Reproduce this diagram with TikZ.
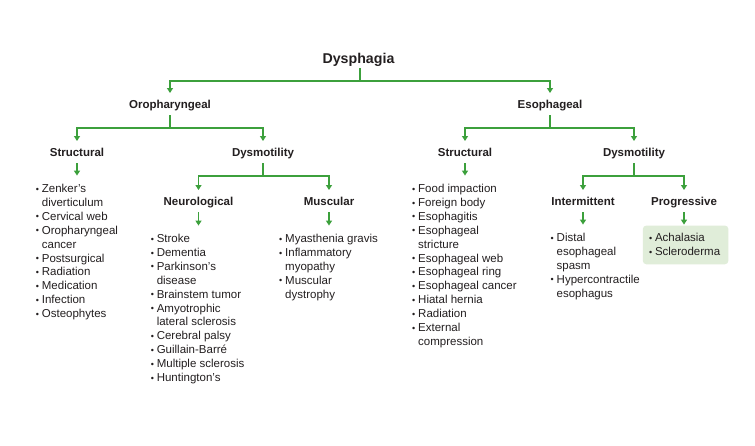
\documentclass[tikz,border=0pt]{standalone}
\usepackage{fontspec}
\setmainfont{Liberation Sans}
\usetikzlibrary{arrows.meta,calc,backgrounds}
\definecolor{lg}{RGB}{60,160,60}
\definecolor{tc}{RGB}{35,31,32}
\definecolor{boxg}{RGB}{224,237,217}
\newcommand\bu{\makebox[6pt][l]{\raisebox{0.4pt}{\fontsize{9}{9}\selectfont •}}}
\newcommand\ct{\hspace*{6pt}}
\newcommand\lst[1]{\begin{tabular}[t]{@{}l@{}}#1\end{tabular}}
\begin{document}
\begin{tikzpicture}[x=1pt,y=-1pt,
  hd/.style={font=\fontsize{11.5}{13}\selectfont\bfseries, text=tc, inner sep=0pt, anchor=base},
  ls/.style={font=\fontsize{11.5}{13.9}\selectfont, text=tc, inner sep=0pt, anchor=base west},
  ln/.style={draw=lg, line width=1.4pt},
  ar/.style={ln, -{Triangle[length=5pt,width=6pt]}}]
\useasboundingbox (0,0) rectangle (755,445);

% headings
\node[hd, font=\fontsize{14.2}{16}\selectfont\bfseries] (dys) at (358.5,63) {Dysphagia};
\node[hd] (oro) at (170,108) {Oropharyngeal};
\node[hd] (eso) at (550,108) {Esophageal};
\node[hd] (lstr) at (77,156) {Structural};
\node[hd] (ldys) at (263,156) {Dysmotility};
\node[hd] (rstr) at (465,156) {Structural};
\node[hd] (rdys) at (634,156) {Dysmotility};
\node[hd] (neu) at (198.5,205) {Neurological};
\node[hd] (mus) at (329,205) {Muscular};
\node[hd] (int) at (583,205) {Intermittent};
\node[hd] (pro) at (684,205) {Progressive};

% lists
\node[ls] (lstrl) at (35.7,192.5) {\lst{\bu Zenker’s\\ \ct diverticulum\\ \bu Cervical web\\ \bu Oropharyngeal\\ \ct cancer\\ \bu Postsurgical\\ \bu Radiation\\ \bu Medication\\ \bu Infection\\ \bu Osteophytes}};
\node[ls] (neul) at (150.6,242.5) {\lst{\bu Stroke\\ \bu Dementia\\ \bu Parkinson’s\\ \ct disease\\ \bu Brainstem tumor\\ \bu Amyotrophic\\ \ct lateral sclerosis\\ \bu Cerebral palsy\\ \bu Guillain-Barré\\ \bu Multiple sclerosis\\ \bu Huntington’s}};
\node[ls] (musl) at (279,242.5) {\lst{\bu Myasthenia gravis\\ \bu Inflammatory\\ \ct myopathy\\ \bu Muscular\\ \ct dystrophy}};
\node[ls] (rstrl) at (412,192.5) {\lst{\bu Food impaction\\ \bu Foreign body\\ \bu Esophagitis\\ \bu Esophageal\\ \ct stricture\\ \bu Esophageal web\\ \bu Esophageal ring\\ \bu Esophageal cancer\\ \bu Hiatal hernia\\ \bu Radiation\\ \bu External\\ \ct compression}};
\node[ls] (intl) at (550.5,241.5) {\lst{\bu Distal\\ \ct esophageal\\ \ct spasm\\ \bu Hypercontractile\\ \ct esophagus}};
\node[ls] (prol) at (648.8,241.5) {\lst{\bu Achalasia\\ \bu Scleroderma}};

\begin{scope}[on background layer]
\fill[white] (0,0) rectangle (755,445);
\fill[boxg, rounded corners=3.5pt] ($(prol.north west)+(-6,-6)$) rectangle ($(prol.south east)+(8,4.5)$);
\end{scope}

% tree connectors
\draw[ar] ([xshift=1.5pt,yshift=-5pt]dys.base) -- ++(0,13) -| ([yshift=15pt]oro.base);
\draw[ar] ([xshift=1.5pt,yshift=-5pt]dys.base) -- ++(0,13) -| ([yshift=15pt]eso.base);
\draw[ar] ([yshift=-7pt]oro.base) -- ++(0,13) -| ([yshift=15pt]lstr.base);
\draw[ar] ([yshift=-7pt]oro.base) -- ++(0,13) -| ([yshift=15pt]ldys.base);
\draw[ar] ([yshift=-7pt]eso.base) -- ++(0,13) -| ([yshift=15pt]rstr.base);
\draw[ar] ([yshift=-7pt]eso.base) -- ++(0,13) -| ([yshift=15pt]rdys.base);
\draw[ar] ([yshift=-7pt]ldys.base) -- ++(0,13) -| ([yshift=15pt]neu.base);
\draw[ar] ([yshift=-7pt]ldys.base) -- ++(0,13) -| ([yshift=15pt]mus.base);
\draw[ar] ([yshift=-7pt]rdys.base) -- ++(0,13) -| ([yshift=15pt]int.base);
\draw[ar] ([yshift=-7pt]rdys.base) -- ++(0,13) -| ([yshift=15pt]pro.base);

% heading to list arrows
\draw[ar] ([yshift=-7pt]lstr.base) -- ($(lstr.base |- lstrl.north)+(0,-7)$);
\draw[ar] ([yshift=-7pt]neu.base) -- ($(neu.base |- neul.north)+(0,-7)$);
\draw[ar] ([yshift=-7pt]mus.base) -- ($(mus.base |- musl.north)+(0,-7)$);
\draw[ar] ([yshift=-7pt]rstr.base) -- ($(rstr.base |- rstrl.north)+(0,-7)$);
\draw[ar] ([yshift=-7pt]int.base) -- ($(int.base |- intl.north)+(0,-7)$);
\draw[ar] ([yshift=-7pt]pro.base) -- ($(pro.base |- prol.north)+(0,-7)$);
\end{tikzpicture}
\end{document}
